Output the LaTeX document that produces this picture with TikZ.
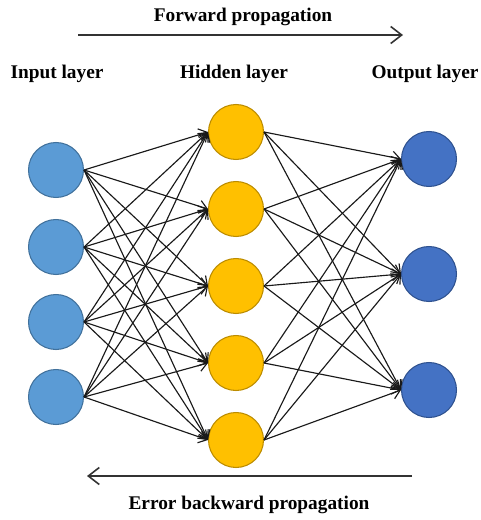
\documentclass[tikz,border=0pt]{standalone}
\usepackage{fontspec}
\setmainfont{Liberation Serif}
\usetikzlibrary{arrows.meta}
\definecolor{inblue}{HTML}{5B9BD5}
\definecolor{inblueline}{HTML}{41719C}
\definecolor{hidgold}{HTML}{FFC000}
\definecolor{hidgoldline}{HTML}{BC8C00}
\definecolor{outblue}{HTML}{4472C4}
\definecolor{outblueline}{HTML}{2F528F}

\begin{document}
\begin{tikzpicture}[x=0.02cm,y=-0.02cm,
    neuron/.style={circle, minimum size=1.1cm, inner sep=0pt, line width=0.6pt},
    inneuron/.style={neuron, fill=inblue, draw=inblueline},
    hidneuron/.style={neuron, fill=hidgold, draw=hidgoldline},
    outneuron/.style={neuron, fill=outblue, draw=outblueline},
    link/.style={-{Straight Barb[length=1.6mm,width=2.4mm]}, line width=0.65pt, draw=black!90},
    flow/.style={-{Straight Barb[length=2.2mm,width=3.4mm]}, line width=0.9pt, draw=black!80},
    caption/.style={font=\bfseries\fontsize{11}{13}\selectfont}]
  \useasboundingbox (0,0) rectangle (480,520);

  \node[caption] (fwdtext) at (243,17) {Forward propagation};
  \node[caption] (intext) at (57,74) {Input layer};
  \node[caption] (hidtext) at (234,74) {Hidden layer};
  \node[caption] (outtext) at (425,74) {Output layer};
  \node[caption] (bwdtext) at (249,505) {Error backward propagation};

  \foreach \y [count=\i] in {170,247,322,397}
    \node[inneuron] (i\i) at (56,\y) {};
  \foreach \y [count=\i] in {132,209,286,363,440}
    \node[hidneuron] (h\i) at (236,\y) {};
  \foreach \y [count=\i] in {159,274,390}
    \node[outneuron] (o\i) at (429,\y) {};

  \foreach \i in {1,...,4}
    \foreach \h in {1,...,5}
      \draw[link] (i\i.east) -- (h\h.west);
  \foreach \h in {1,...,5}
    \foreach \o in {1,...,3}
      \draw[link] (h\h.east) -- (o\o.west);

  \coordinate (fwdstart) at (78,35);
  \coordinate (fwdend) at (403,35);
  \coordinate (bwdstart) at (412,476);
  \coordinate (bwdend) at (87,476);
  \draw[flow] (fwdstart) -- (fwdend);
  \draw[flow] (bwdstart) -- (bwdend);
\end{tikzpicture}
\end{document}
